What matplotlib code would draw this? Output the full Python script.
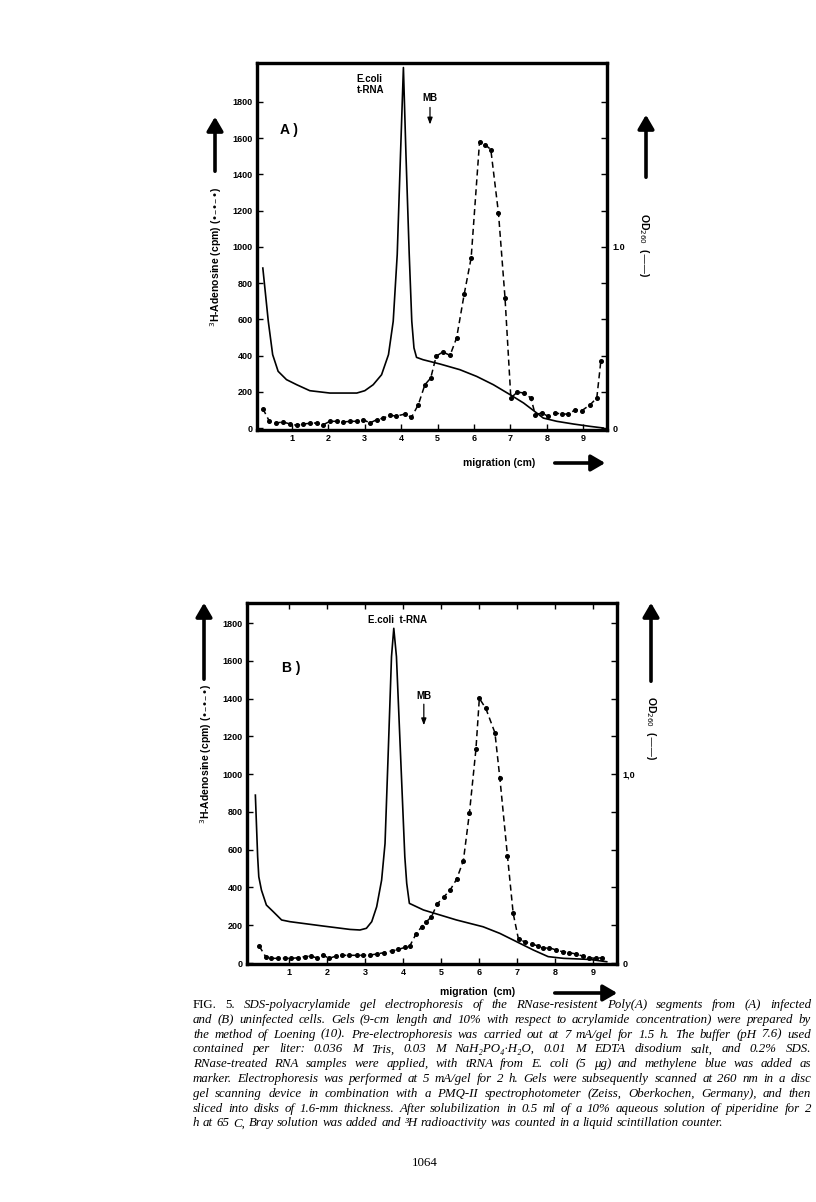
import numpy as np
import matplotlib
matplotlib.use("Agg")
import matplotlib.pyplot as plt
from matplotlib.patches import FancyArrowPatch

# ---- panel A (infected) ----
a_cpm_x = [0.2, 0.38, 0.56, 0.76, 0.95, 1.13, 1.31, 1.49, 1.68, 1.86, 2.04, 2.23, 2.41, 2.59,
           2.78, 2.96, 3.14, 3.33, 3.51, 3.69, 3.87, 4.1, 4.28, 4.47, 4.65, 4.81, 4.96, 5.14,
           5.34, 5.52, 5.73, 5.92, 6.15, 6.3, 6.46, 6.67, 6.85, 7.01, 7.19, 7.36, 7.56, 7.68,
           7.86, 8.04, 8.23, 8.41, 8.59, 8.78, 8.96, 9.19, 9.37, 9.48]
a_cpm_y = [107, 37, 28, 33, 22, 15, 22, 26, 28, 18, 37, 37, 33, 37,
           37, 46, 28, 46, 55, 70, 66, 77, 59, 129, 239, 276, 396, 420,
           401, 497, 740, 939, 1579, 1565, 1537, 1187, 718, 166, 199, 193, 166, 74,
           83, 64, 83, 77, 77, 101, 96, 129, 166, 368]
a_od_x = [0.2, 0.35, 0.47, 0.62, 0.85, 1.13, 1.49, 2.04, 2.78, 3.0, 3.23, 3.46, 3.65, 3.78,
          3.89, 3.98, 4.06, 4.13, 4.22, 4.29, 4.35, 4.42, 4.6, 5.07, 5.61, 6.07, 6.53, 6.99,
          7.36, 7.72, 7.9, 8.27, 8.73, 9.19, 9.55]
a_od_y = [0.883, 0.589, 0.405, 0.313, 0.267, 0.239, 0.206, 0.193, 0.193, 0.206, 0.239, 0.294,
          0.405, 0.589, 0.957, 1.509, 1.99, 1.509, 0.957, 0.589, 0.442, 0.39, 0.377, 0.353,
          0.322, 0.285, 0.239, 0.184, 0.138, 0.083, 0.055, 0.037, 0.022, 0.009, 0.0]

# ---- panel B (uninfected) ----
b_cpm_x = [0.22, 0.39, 0.54, 0.72, 0.89, 1.07, 1.25, 1.42, 1.57, 1.73, 1.9, 2.06, 2.24, 2.41,
           2.59, 2.78, 2.96, 3.13, 3.31, 3.5, 3.7, 3.88, 4.05, 4.18, 4.34, 4.49, 4.62, 4.75,
           4.9, 5.08, 5.24, 5.41, 5.59, 5.75, 5.92, 6.01, 6.18, 6.42, 6.55, 6.75, 6.9, 7.04,
           7.21, 7.39, 7.56, 7.69, 7.85, 8.03, 8.2, 8.38, 8.55, 8.73, 8.9, 9.08, 9.23]
b_cpm_y = [90, 34, 25, 25, 25, 25, 28, 34, 37, 28, 42, 25, 37, 41,
           41, 41, 41, 42, 48, 55, 64, 72, 83, 90, 152, 192, 219, 245,
           312, 351, 386, 443, 542, 796, 1131, 1401, 1348, 1219, 978, 566, 263, 125,
           113, 101, 90, 78, 81, 69, 60, 55, 48, 37, 28, 25, 28]
b_od_x = [0.12, 0.18, 0.21, 0.28, 0.41, 0.59, 0.81, 1.03, 1.9, 2.61, 2.87, 3.04, 3.18, 3.31,
          3.44, 3.53, 3.61, 3.7, 3.76, 3.83, 3.94, 4.05, 4.1, 4.17, 4.54, 5.41, 6.11, 6.55,
          6.99, 7.43, 7.82, 8.22, 8.92, 9.36]
b_od_y = [0.889, 0.563, 0.457, 0.386, 0.307, 0.272, 0.228, 0.219, 0.196, 0.178, 0.175, 0.184,
          0.219, 0.298, 0.439, 0.633, 1.092, 1.622, 1.772, 1.622, 1.092, 0.563, 0.422, 0.316,
          0.281, 0.228, 0.192, 0.157, 0.113, 0.069, 0.034, 0.025, 0.019, 0.007]

cpm_ticks = [0, 200, 400, 600, 800, 1000, 1200, 1400, 1600, 1800]
x_ticks = [1, 2, 3, 4, 5, 6, 7, 8, 9]

caption = [
    "FIG. 5. SDS-polyacrylamide gel electrophoresis of the RNase-resistent Poly(A) segments from (A) infected",
    "and (B) uninfected cells. Gels (9-cm length and 10% with respect to acrylamide concentration) were prepared by",
    "the method of Loening (10). Pre-electrophoresis was carried out at 7 mA/gel for 1.5 h. The buffer (pH 7.6) used",
    "contained per liter: 0.036 M Tris, 0.03 M NaH\u2082PO\u2084\u00b7H\u2082O, 0.01 M EDTA disodium salt, and 0.2% SDS.",
    "RNase-treated RNA samples were applied, with tRNA from E. coli (5 \u03bcg) and methylene blue was added as",
    "marker. Electrophoresis was performed at 5 mA/gel for 2 h. Gels were subsequently scanned at 260 nm in a disc",
    "gel scanning device in combination with a PMQ-II spectrophotometer (Zeiss, Oberkochen, Germany), and then",
    "sliced into disks of 1.6-mm thickness. After solubilization in 0.5 ml of a 10% aqueous solution of piperidine for 2",
    "h at 65 C, Bray solution was added and \u00b3H radioactivity was counted in a liquid scintillation counter.",
]

W, H = 816, 1202
fig = plt.figure(figsize=(W / 100, H / 100), dpi=100)
fig.patch.set_facecolor("white")
sans = ["Liberation Sans", "DejaVu Sans"]
serif = ["Liberation Serif", "DejaVu Serif"]


def fx(px):
    return px / W


def fy(py):
    return 1 - py / H


def fig_arrow(x0, y0, x1, y1):
    a = FancyArrowPatch((fx(x0), fy(y0)), (fx(x1), fy(y1)), transform=fig.transFigure,
                        arrowstyle="-|>,head_length=0.6,head_width=0.35", mutation_scale=14,
                        lw=2.6, color="k")
    fig.patches.append(a)


def panel(rect, xlim, ylim, cx, cy, ox, oy, od_label, top_ticks):
    ax = fig.add_axes(rect)
    ax.plot(cx, cy, color="k", lw=1.1, ls=(0, (4, 2.5)), marker="o", ms=2.6, zorder=3)
    ax.set_xlim(*xlim)
    ax.set_ylim(*ylim)
    ax.set_yticks(cpm_ticks)
    ax.set_yticklabels([str(t) for t in cpm_ticks])
    ax.set_xticks(x_ticks)
    ax.tick_params(direction="in", length=4, width=1, labelsize=6.5, top=top_ticks, pad=3)
    for lab in ax.get_xticklabels() + ax.get_yticklabels():
        lab.set_fontweight("bold")
        lab.set_family(sans)
    ax2 = ax.twinx()
    ax2.plot(ox, oy, color="k", lw=1.2)
    ax2.set_ylim(ylim[0] / 1000, ylim[1] / 1000)
    rt = [t / 1000 for t in cpm_ticks]
    ax2.set_yticks(rt)
    ax2.set_yticklabels(["0" if t == 0 else (od_label if t == 1.0 else "") for t in rt])
    ax2.tick_params(direction="in", length=4, width=1, labelsize=6.5, pad=4)
    for lab in ax2.get_yticklabels():
        lab.set_fontweight("bold")
        lab.set_family(sans)
    for a in (ax, ax2):
        for s in a.spines.values():
            s.set_linewidth(2.3)
    return ax


# panel A
axA = panel([257 / W, fy(430), 350 / W, 367 / H], (0.04, 9.65), (-11, 2015),
            a_cpm_x, a_cpm_y, a_od_x, a_od_y, "1.0", False)
axA.text(2.78, 1895, "E.coli\nt-RNA", fontsize=7, fontweight="bold", family=sans,
         ha="left", va="center", linespacing=1.1)
axA.text(4.79, 1822, "MB", fontsize=7, fontweight="bold", family=sans, ha="center", va="center")
axA.annotate("", xy=(4.79, 1660), xytext=(4.79, 1785),
             arrowprops=dict(arrowstyle="-|>,head_length=0.4,head_width=0.15", color="k", lw=0.9))
axA.text(0.67, 1645, "A )", fontsize=10, fontweight="bold", family=sans, ha="left", va="center")

# panel B
axB = panel([247 / W, fy(964), 370 / W, 361 / H], (-0.1, 9.63), (-5, 1906),
            b_cpm_x, b_cpm_y, b_od_x, b_od_y, "1,0", True)
axB.text(3.87, 1816, "E.coli  t-RNA", fontsize=7, fontweight="bold", family=sans,
         ha="center", va="center")
axB.text(4.55, 1413, "MB", fontsize=7, fontweight="bold", family=sans, ha="center", va="center")
axB.annotate("", xy=(4.55, 1244), xytext=(4.55, 1385),
             arrowprops=dict(arrowstyle="-|>,head_length=0.4,head_width=0.15", color="k", lw=0.9))
axB.text(0.82, 1562, "B )", fontsize=10, fontweight="bold", family=sans, ha="left", va="center")

# axis labels outside the frames
ylab = "$^{3}$H-Adenosine (cpm) (\u2022\u2013\u2022\u2013\u2022)"
fig.text(fx(216), fy(257), ylab, rotation=90, fontsize=7.5, fontweight="bold", family=sans,
         ha="center", va="center")
fig.text(fx(206), fy(754), ylab, rotation=90, fontsize=7.5, fontweight="bold", family=sans,
         ha="center", va="center")
fig_arrow(215, 174, 215, 114)
fig_arrow(204, 682, 204, 600)

odlab = "OD$_{260}$  (\u2014\u2014)"
fig.text(fx(644), fy(245), odlab, rotation=-90, fontsize=7.5, fontweight="bold", family=sans,
         ha="center", va="center")
fig.text(fx(651), fy(728), odlab, rotation=-90, fontsize=7.5, fontweight="bold", family=sans,
         ha="center", va="center")
fig_arrow(646, 180, 646, 112)
fig_arrow(651, 684, 651, 600)

fig.text(fx(463), fy(463), "migration (cm)", fontsize=7.5, fontweight="bold", family=sans,
         ha="left", va="center")
fig.text(fx(440), fy(992), "migration  (cm)", fontsize=7.5, fontweight="bold", family=sans,
         ha="left", va="center")
fig_arrow(552, 463, 608, 463)
fig_arrow(552, 993, 620, 993)

# caption, justified line by line
cap_size = 9.3
renderer = fig.canvas.get_renderer()
left, right = 193, 811
y0, dy = 1005, 14.8
for i, line in enumerate(caption):
    words = line.split(" ")
    texts = []
    for j, w in enumerate(words):
        style = "normal" if (i == 0 and j < 2) else "italic"
        t = fig.text(0, fy(y0 + i * dy), w, fontsize=cap_size, family=serif, style=style,
                     ha="left", va="center")
        texts.append(t)
    widths = [t.get_window_extent(renderer).width for t in texts]
    if i < len(caption) - 1:
        gap = (right - left - sum(widths)) / (len(words) - 1)
    else:
        gap = renderer.points_to_pixels(cap_size) * 0.27
    x = left
    for t, w in zip(texts, widths):
        t.set_x(fx(x))
        x += w + gap

fig.text(fx(425), fy(1163), "1064", fontsize=cap_size, family=serif, ha="center", va="center")

fig.savefig("out.png", dpi=100, facecolor="white")
